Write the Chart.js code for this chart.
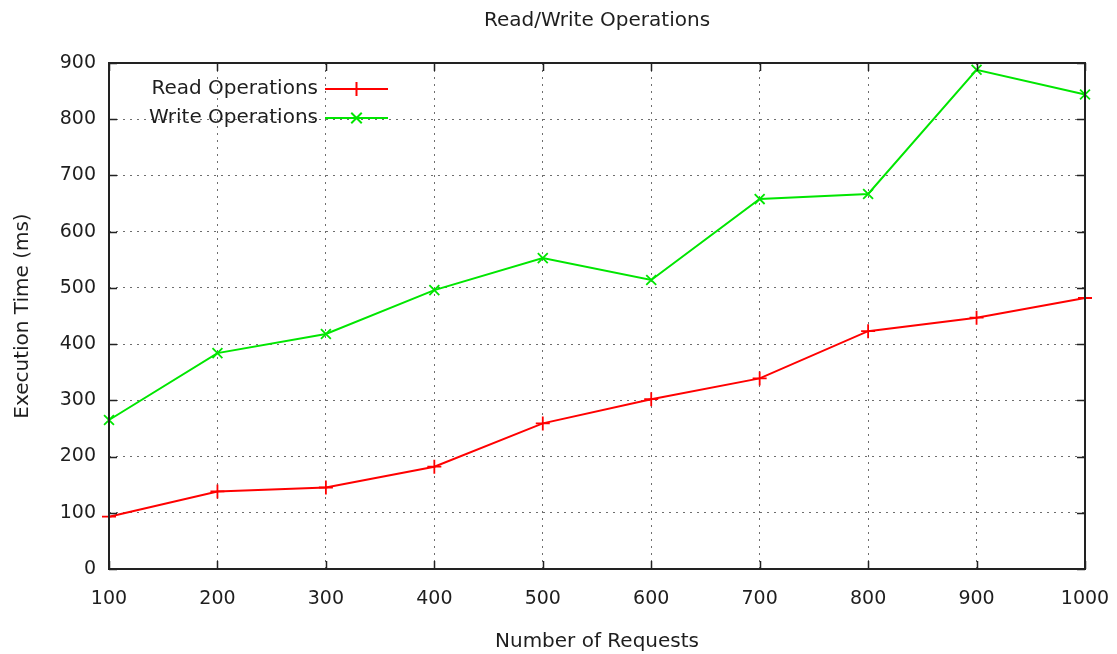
<!DOCTYPE html>
<html>
<head>
<meta charset="utf-8">
<title>Read/Write Operations</title>
<script src="https://cdn.jsdelivr.net/npm/chart.js@4/dist/chart.umd.min.js"></script>
<style>
  html, body { margin: 0; padding: 0; background: #fff; }
  #wrap { width: 1117px; height: 654px; }
</style>
</head>
<body>
<div id="wrap"><canvas id="c" width="1117" height="654"></canvas></div>
<script>
// Number of requests issued per run
const requests = [100, 200, 300, 400, 500, 600, 700, 800, 900, 1000];
// Execution time in ms
const readTimes  = [93, 138, 145, 182, 259, 302, 339, 423, 447, 482];
const writeTimes = [265, 384, 418, 496, 553, 514, 658, 667, 888, 844];
const seriesNames = ['Read Operations', 'Write Operations'];
const yTicks = [0, 100, 200, 300, 400, 500, 600, 700, 800, 900];
const chartTitle = 'Read/Write Operations';

const FONT = 'DejaVu Sans';
const TEXT = '#1e1e1e';
const toPoints = vals => requests.map((r, i) => ({ x: r, y: vals[i] }));

// Title centred over the plot, inward ticks on all four sides,
// a full black frame and a legend inside the top-left corner
const framePlugin = {
  id: 'frame',
  afterDatasetsDraw(chart) {
    const { ctx, chartArea: a, scales: { x, y } } = chart;
    ctx.save();

    ctx.fillStyle = TEXT;
    ctx.font = '20px "' + FONT + '"';
    ctx.textAlign = 'center';
    ctx.textBaseline = 'middle';
    ctx.fillText(chartTitle, (a.left + a.right) / 2, 21);

    ctx.strokeStyle = '#222';
    ctx.lineWidth = 1.5;
    ctx.beginPath();
    const t = 8;
    requests.forEach(v => {
      const px = Math.round(x.getPixelForValue(v)) + 0.5;
      ctx.moveTo(px, a.bottom); ctx.lineTo(px, a.bottom - t);
      ctx.moveTo(px, a.top); ctx.lineTo(px, a.top + t);
    });
    yTicks.forEach(v => {
      const py = Math.round(y.getPixelForValue(v)) + 0.5;
      ctx.moveTo(a.left, py); ctx.lineTo(a.left + t, py);
      ctx.moveTo(a.right, py); ctx.lineTo(a.right - t, py);
    });
    ctx.stroke();
    ctx.lineWidth = 2;
    ctx.strokeRect(a.left, a.top, a.right - a.left, a.bottom - a.top);

    // legend: right-aligned labels followed by a line sample with its marker
    ctx.font = '20px "' + FONT + '"';
    ctx.textAlign = 'right';
    const textRight = a.left + 209;
    const lineX0 = textRight + 7, lineX1 = textRight + 70;
    chart.data.datasets.forEach((ds, i) => {
      const ly = a.top + 26 + i * 29;
      ctx.fillStyle = TEXT;
      ctx.fillText(ds.label, textRight, ly);
      ctx.strokeStyle = ds.borderColor;
      ctx.lineWidth = 2;
      ctx.beginPath();
      ctx.moveTo(lineX0, ly); ctx.lineTo(lineX1, ly);
      const mx = (lineX0 + lineX1) / 2, r = 7;
      if (ds.pointStyle === 'cross') {
        ctx.moveTo(mx - r, ly); ctx.lineTo(mx + r, ly);
        ctx.moveTo(mx, ly - r); ctx.lineTo(mx, ly + r);
      } else {
        const d = r * 0.75;
        ctx.moveTo(mx - d, ly - d); ctx.lineTo(mx + d, ly + d);
        ctx.moveTo(mx - d, ly + d); ctx.lineTo(mx + d, ly - d);
      }
      ctx.stroke();
    });
    ctx.restore();
  }
};

new Chart(document.getElementById('c'), {
  type: 'line',
  data: {
    datasets: [
      {
        label: seriesNames[0],
        data: toPoints(readTimes),
        borderColor: '#ff0000',
        backgroundColor: '#ff0000',
        borderWidth: 2,
        pointStyle: 'cross',
        pointRadius: 7,
        pointBorderWidth: 1.8,
        tension: 0,
        clip: false
      },
      {
        label: seriesNames[1],
        data: toPoints(writeTimes),
        borderColor: '#00e600',
        backgroundColor: '#00e600',
        borderWidth: 2,
        pointStyle: 'crossRot',
        pointRadius: 7,
        pointBorderWidth: 1.8,
        tension: 0,
        clip: false
      }
    ]
  },
  options: {
    responsive: false,
    animation: false,
    layout: { padding: { left: 11, right: 32, top: 63, bottom: 0 } },
    plugins: {
      legend: { display: false },
      tooltip: { enabled: false },
      title: { display: false }
    },
    scales: {
      x: {
        type: 'linear',
        min: 100,
        max: 1000,
        afterFit(s) { s.height = 85; s.paddingLeft = 0; s.paddingRight = 0; },
        afterBuildTicks(s) { s.ticks = requests.map(v => ({ value: v })); },
        ticks: {
          color: TEXT,
          font: { family: FONT, size: 19 },
          padding: 19,
          maxRotation: 0,
          autoSkip: false,
          callback: v => String(v)
        },
        grid: {
          color: '#6e6e6e',
          lineWidth: 1,
          drawTicks: false
        },
        border: { display: false, dash: [2, 5] },
        title: {
          display: true,
          text: 'Number of Requests',
          color: TEXT,
          font: { family: FONT, size: 20 },
          padding: { top: 8, bottom: 0 }
        }
      },
      y: {
        min: 0,
        max: 900,
        afterFit(s) { s.width = 98; s.paddingTop = 0; s.paddingBottom = 0; },
        afterBuildTicks(s) { s.ticks = yTicks.map(v => ({ value: v })); },
        ticks: {
          color: TEXT,
          font: { family: FONT, size: 19 },
          padding: 13,
          callback: v => String(v)
        },
        grid: {
          color: '#6e6e6e',
          lineWidth: 1,
          drawTicks: false
        },
        border: { display: false, dash: [2, 5] },
        title: {
          display: true,
          text: 'Execution Time (ms)',
          color: TEXT,
          font: { family: FONT, size: 20 },
          padding: { top: 0, bottom: 6 }
        }
      }
    }
  },
  plugins: [framePlugin]
});
</script>
</body>
</html>
